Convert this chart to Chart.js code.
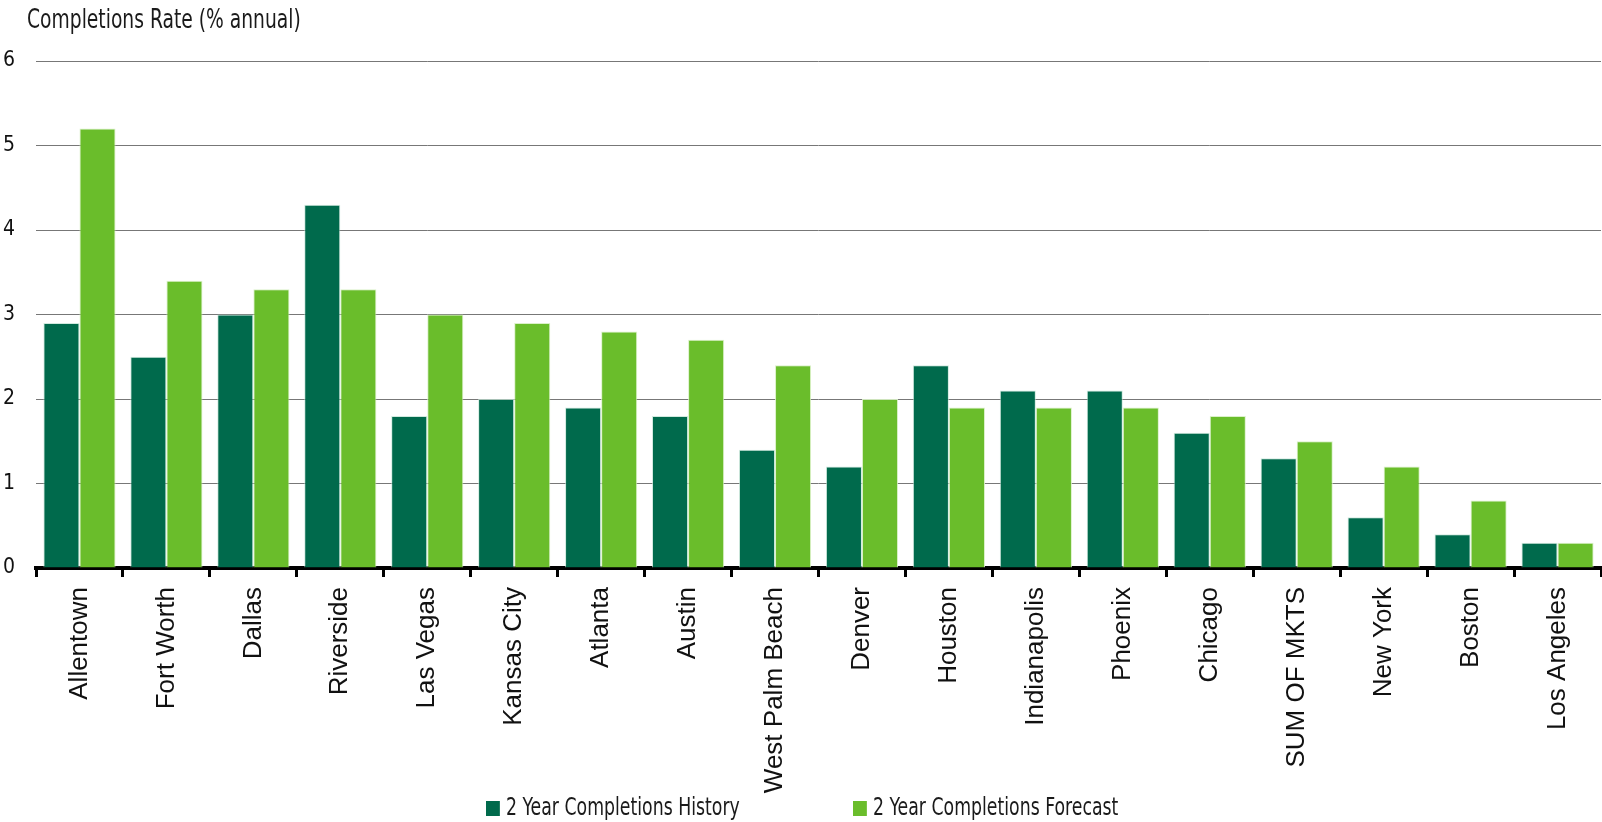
<!DOCTYPE html>
<html>
<head>
<meta charset="utf-8">
<script src="https://cdn.jsdelivr.net/npm/chart.js@4.4.1/dist/chart.umd.min.js"></script>
<style>
  body { margin: 0; background: #fff; }
  #wrap { position: relative; width: 1602px; height: 822px; }
  .narrow { font-family: "DejaVu Sans Condensed", "Liberation Sans Narrow", sans-serif; color: #1a1a1a; transform-origin: 0 50%; }
  #title { position: absolute; left: 27px; top: 4px; font-size: 26px; white-space: nowrap; transform: scaleX(0.8); }
  .leg { position: absolute; top: 795px; font-size: 25px; white-space: nowrap; line-height: 24px; transform: scaleX(0.77); }
  .leg span { display: inline-block; width: 18px; height: 15px; margin-right: 8px; vertical-align: -1px; }
</style>
</head>
<body>
<div id="wrap">
  <canvas id="completionsChart"></canvas>
  <div id="title" class="narrow">Completions Rate (% annual)</div>
  <div id="legend"></div>
</div>
<script>
// markets, sorted by forecast
const markets = ["Allentown", "Fort Worth", "Dallas", "Riverside", "Las Vegas", "Kansas City",
  "Atlanta", "Austin", "West Palm Beach", "Denver", "Houston", "Indianapolis", "Phoenix",
  "Chicago", "SUM OF MKTS", "New York", "Boston", "Los Angeles"];
const history = [2.9, 2.5, 3.0, 4.3, 1.8, 2.0, 1.9, 1.8, 1.4, 1.2, 2.4, 2.1, 2.1, 1.6, 1.3, 0.6, 0.4, 0.3];
const forecast = [5.2, 3.4, 3.3, 3.3, 3.0, 2.9, 2.8, 2.7, 2.4, 2.0, 1.9, 1.9, 1.9, 1.8, 1.5, 1.2, 0.8, 0.3];
const yTicks = [0, 1, 2, 3, 4, 5, 6];

const seriesNames = ["2 Year Completions History", "2 Year Completions Forecast"];
const seriesColors = ["#006a4c", "#6abd2b"];
const legendLeft = [486, 853];

const ctx = document.getElementById("completionsChart").getContext("2d");
const chart = new Chart(ctx, {
  type: "bar",
  data: {
    labels: markets,
    datasets: [
      {
        label: seriesNames[0],
        data: history,
        backgroundColor: seriesColors[0],
        borderColor: "rgba(190,225,210,0.7)",
        borderWidth: 1,
      },
      {
        label: seriesNames[1],
        data: forecast,
        backgroundColor: seriesColors[1],
        borderColor: "rgba(215,240,195,0.9)",
        borderWidth: 1,
      },
    ],
  },
  options: {
    responsive: true,
    maintainAspectRatio: false,
    animation: false,
    layout: { padding: { top: 61, right: 1, bottom: 0, left: 0 } },
    datasets: { bar: { categoryPercentage: 0.83, barPercentage: 1.0 } },
    plugins: {
      legend: { display: false },
      tooltip: { enabled: false },
    },
    scales: {
      x: {
        afterFit: (scale) => { scale.height = 254; },
        border: { color: "#000", width: 4 },
        grid: {
          offset: true,
          drawOnChartArea: false,
          color: "#000",
          tickColor: "#000",
          tickLength: 9,
          tickWidth: 3,
        },
        ticks: {
          autoSkip: false,
          minRotation: 90,
          maxRotation: 90,
          padding: 10,
          color: "#111",
          font: { family: "'Liberation Sans', Arial, sans-serif", size: 26 },
        },
      },
      y: {
        min: 0,
        max: 6,
        afterFit: (scale) => { scale.width = 36; },
        afterBuildTicks: (scale) => { scale.ticks = yTicks.map((v) => ({ value: v })); },
        border: { display: false },
        grid: { color: "#777", lineWidth: 1, drawTicks: false },
        ticks: {
          padding: 21,
          color: "#111",
          font: { family: "'DejaVu Sans Condensed', sans-serif", size: 21 },
        },
      },
    },
  },
});

// legend built from the dataset names and colours
const legend = document.getElementById("legend");
seriesNames.forEach((name, i) => {
  const item = document.createElement("div");
  item.className = "leg narrow";
  item.style.left = legendLeft[i] + "px";
  item.innerHTML = '<span style="background:' + seriesColors[i] + '"></span>' + name;
  legend.appendChild(item);
});
</script>
</body>
</html>
